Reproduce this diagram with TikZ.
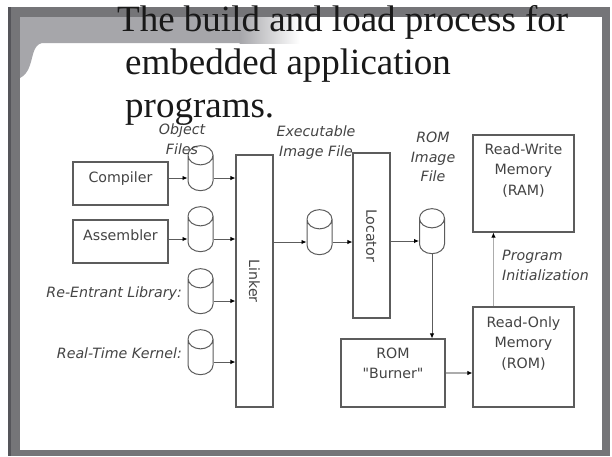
\documentclass[tikz,border=0pt]{standalone}
\usepackage{fontspec}
\setmainfont{Liberation Serif}
\newfontfamily\diagfont{DejaVu Sans}
\usepackage{graphicx}
\usetikzlibrary{shapes.geometric,arrows.meta,shadows}

\definecolor{framegray}{HTML}{757578}
\definecolor{framedark}{HTML}{55555A}
\definecolor{bandgray}{HTML}{A6A6AA}
\definecolor{linegray}{HTML}{5C5C5C}
\definecolor{textgray}{HTML}{444444}

\tikzset{
  box/.style={draw=linegray, line width=1.1pt, fill=white, inner sep=0pt,
    font=\diagfont\fontsize{14.2}{20.5}\selectfont, text=textgray,
    general shadow={fill=black!30, shadow xshift=1.3pt, shadow yshift=-1.3pt}},
  srcbox/.style={box, minimum width=95pt, minimum height=43pt,
    text height=20pt, text depth=23pt},
  membox/.style={box, align=center, minimum width=101pt},
  dbcyl/.style={cylinder, shape border rotate=90, draw=linegray, line width=1pt,
    fill=white, minimum width=25pt, minimum height=45pt, aspect=0.8, inner sep=12pt},
  arr/.style={draw=linegray, line width=0.9pt, -{Latex[length=5pt,width=4.5pt,color=black]}},
  lightarr/.style={draw=gray!65, line width=1.3pt},
  lbl/.style={font=\diagfont\itshape\fontsize{14.2}{19.5}\selectfont, text=textgray, inner sep=0pt},
  ttl/.style={font=\fontsize{37}{43}\selectfont, anchor=base west, inner sep=0pt, text=black!90}
}

\begin{document}
\begin{tikzpicture}[x=1pt,y=-1pt]
\useasboundingbox (0,0) rectangle (612,456); % page = slide

% slide frame
\fill[framegray] (8,7) rectangle (610,456);
\fill[framedark] (8,7) rectangle (11,456);
\fill[white] (20,17) rectangle (602,450);
\fill[bandgray] (20,17) -- (240,17) -- (240,43) -- (42,43)
  .. controls (33,45) and (33,57) .. (30,65)
  .. controls (28,72) and (24,76) .. (20,78) -- cycle;
\shade[left color=bandgray, right color=white] (239.5,17) rectangle (300,43);

% title
\node[ttl] (title1) at (117,31) {The build and load process for};
\node[ttl] (title2) at (125,74) {embedded application};
\node[ttl] (title3) at (125,117) {programs.};

% tools and files
\node[srcbox] (compiler) at (120.5,183.5) {Compiler};
\node[srcbox] (assembler) at (120.5,241.5) {Assembler};
\node[dbcyl] (objA) at (200.5,178) {};
\node[dbcyl] (objB) at (200.5,239) {};
\node[dbcyl] (objC) at (200.5,301) {};
\node[dbcyl] (objD) at (200.5,362) {};
\node[box, minimum width=37pt, minimum height=252pt] (linker) at (254.5,281) {\rotatebox{-90}{Linker}};
\node[dbcyl] (exe) at (319.5,242) {};
\node[box, minimum width=37pt, minimum height=165pt] (locator) at (371.5,235.5) {\rotatebox{-90}{Locator}};
\node[dbcyl] (romimg) at (432,241) {};
\node[box, align=center, minimum width=104pt, text height=39.5pt, text depth=28.5pt] (burner) at (393,373) {ROM\\"Burner"};
\node[membox, text height=61pt, text depth=39pt] (rom) at (523.5,357) {Read-Only\\Memory\\(ROM)};
\node[membox, text height=60pt, text depth=37pt] (ram) at (523.5,183.5) {Read-Write\\Memory\\(RAM)};

% labels
\node[lbl, align=center] (objlbl) at (182,139) {Object\\Files};
\node[lbl, align=center] (exelbl) at (316,142.5) {Executable\\Image File};
\node[lbl, align=center] (romlbl) at (433,157) {ROM\\Image\\File};
\node[lbl, align=left, anchor=west] (initlbl) at (502,265.5) {Program\\Initialization};
\node[lbl, anchor=east] (liblbl) at (182,294) {Re-Entrant Library:};
\node[lbl, anchor=east] (kernlbl) at (182,353) {Real-Time Kernel:};

% connectors
\draw[arr] (compiler.east |- objA) -- (objA);
\draw[arr] (objA) -- (objA -| linker.west);
\draw[arr] (assembler.east |- objB) -- (objB);
\draw[arr] (objB) -- (objB -| linker.west);
\draw[arr] (objC) -- (objC -| linker.west);
\draw[arr] (objD) -- (objD -| linker.west);
\draw[arr] (linker.east |- exe) -- (exe);
\draw[arr] (exe) -- (exe -| locator.west);
\draw[arr] (locator.east |- romimg) -- (romimg);
\draw[arr] (romimg) -- (romimg |- burner.north);
\draw[arr, lightarr] (burner.east) -- (burner.east -| rom.west);
\draw[arr, lightarr] ([xshift=21pt]rom.north west) -- ([xshift=21pt]ram.south west);
\end{tikzpicture}
\end{document}
